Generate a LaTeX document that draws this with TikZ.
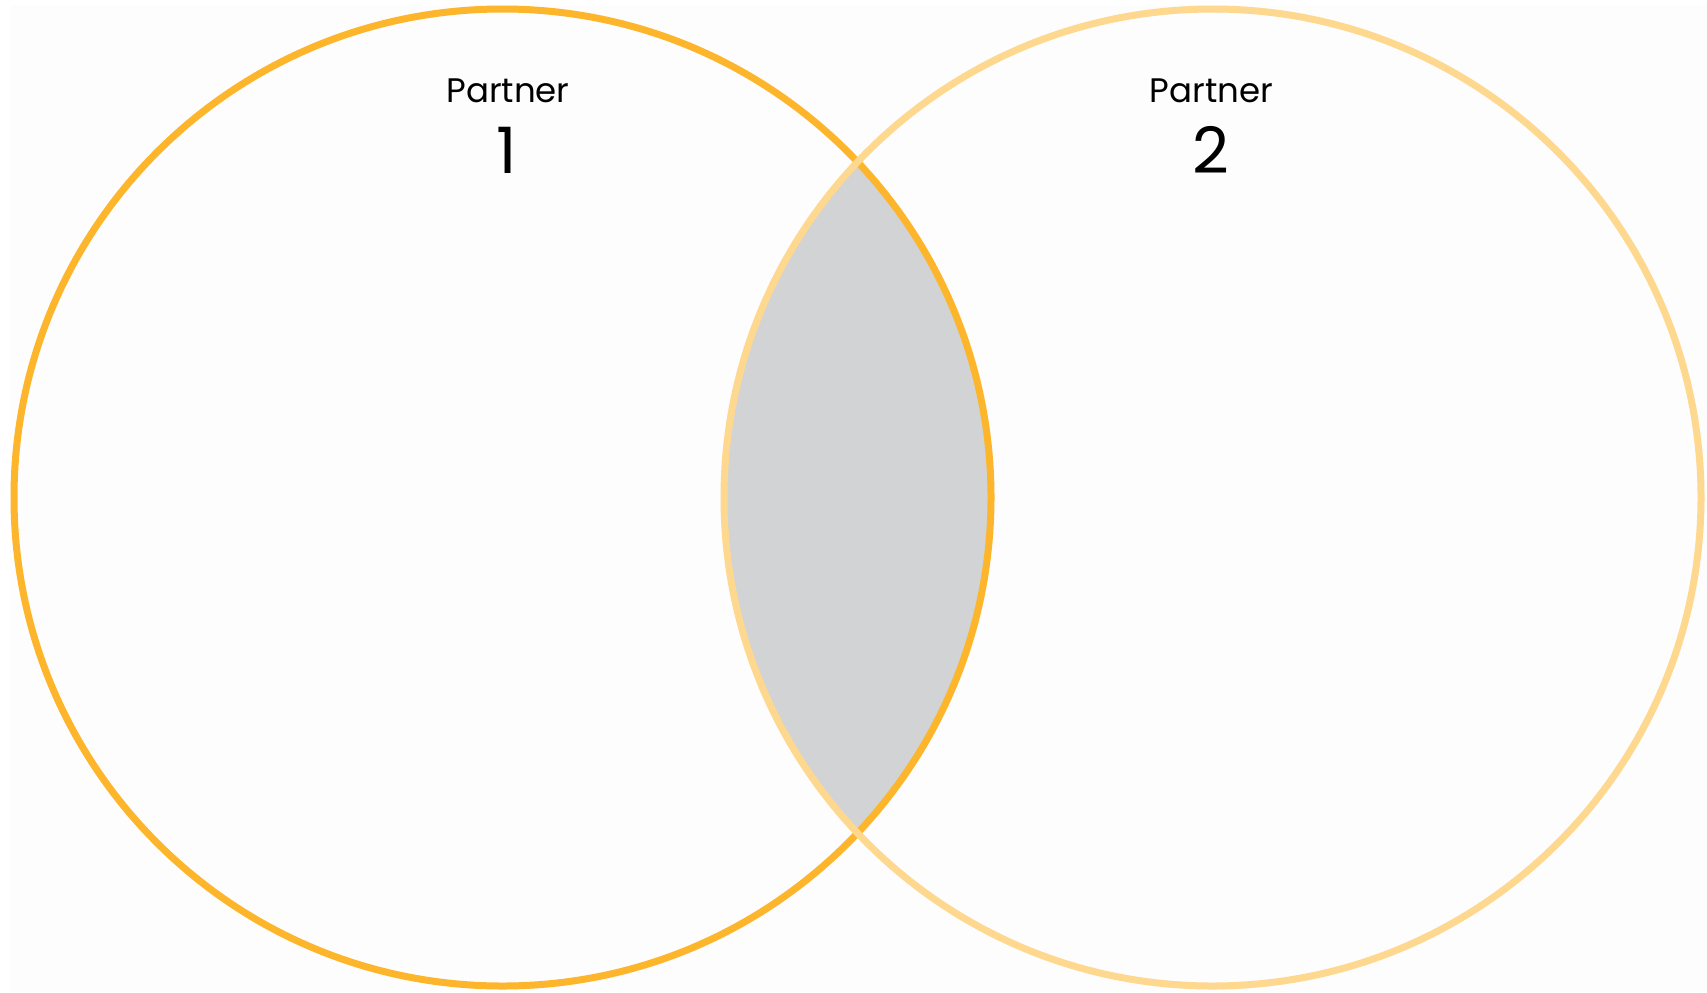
\documentclass[tikz,border=0pt]{standalone}
\usepackage{fontspec}
\setmainfont{Poppins}
\definecolor{darkor}{HTML}{FDB62B}
\definecolor{lightor}{HTML}{FED88E}
\definecolor{lensgray}{HTML}{D2D3D5}
\definecolor{bgpaper}{HTML}{FDFDFD}
\begin{document}
\begin{tikzpicture}[x=0.5pt,y=-0.5pt,
  ring/.style={line width=3.5pt},
  lbl/.style={inner sep=0pt,anchor=base,font=\fontsize{17}{20}\selectfont},
  num/.style={inner sep=0pt,anchor=base,font=\fontsize{32}{36}\selectfont}]
\useasboundingbox (0,0) rectangle (1707,992);
\fill[white] (0,0) rectangle (1707,992);
\fill[bgpaper] (10,5) rectangle (1707,992);
\coordinate (c1) at (502.5,497.5);
\coordinate (c2) at (1212.5,497.5);
\begin{scope}
  \clip (c1) circle[radius=488.5];
  \fill[lensgray] (c2) circle[radius=488.5];
\end{scope}
\draw[ring,darkor] (c1) circle[radius=488.5];
\draw[ring,lightor] (c2) circle[radius=488.5];
\node[lbl] (p1) at (508,102) {Partner};
\node[num] (n1) at (507,173) {1};
\node[lbl] (p2) at (1211.5,102) {Partner};
\node[num] (n2) at (1211,173) {2};
\end{tikzpicture}
\end{document}
